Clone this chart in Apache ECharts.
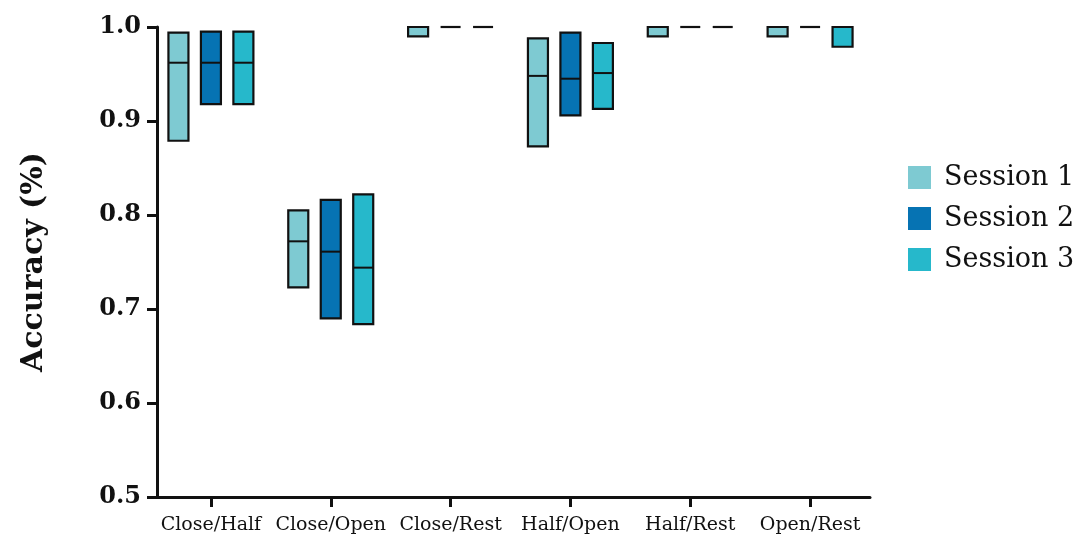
<!DOCTYPE html>
<html><head><meta charset="utf-8">
<script src="https://cdn.jsdelivr.net/npm/echarts@6/dist/echarts.min.js"></script>
<style>html,body{margin:0;padding:0;background:#fff}#c{width:1078px;height:538px}</style>
</head><body><div id="c"></div>
<script>
const categories = ['Close/Half', 'Close/Open', 'Close/Rest', 'Half/Open', 'Half/Rest', 'Open/Rest'];
const sessionNames = ['Session 1', 'Session 2', 'Session 3'];
// each entry: [min, median, max]
const session1 = [[0.879, 0.962, 0.994], [0.723, 0.772, 0.805], [0.990, 1.0, 1.0], [0.873, 0.948, 0.988], [0.990, 1.0, 1.0], [0.990, 1.0, 1.0]];
const session2 = [[0.918, 0.962, 0.995], [0.690, 0.761, 0.816], [1.0, 1.0, 1.0], [0.906, 0.945, 0.994], [1.0, 1.0, 1.0], [1.0, 1.0, 1.0]];
const session3 = [[0.918, 0.962, 0.995], [0.684, 0.744, 0.822], [1.0, 1.0, 1.0], [0.913, 0.951, 0.983], [1.0, 1.0, 1.0], [0.979, 1.0, 1.0]];
const yMin = 0.5, yMax = 1.0, yStep = 0.1;

const colors = ['#7ecad2', '#0673b3', '#26b8cb'];
const offsets = [-0.271, 0, 0.271];
const FONT = 'DejaVu Serif';

function makeRender(offsetFrac) {
  return function (params, api) {
    const cat = api.value(0);
    const band = api.size([1, 0])[0];
    const cx = api.coord([cat, api.value(1)])[0] + offsetFrac * band;
    const w = band * 0.167;
    const pMin = api.coord([cat, api.value(1)])[1];
    const pMed = api.coord([cat, api.value(2)])[1];
    const pMax = api.coord([cat, api.value(3)])[1];
    const color = api.visual('color');
    if (Math.abs(pMin - pMax) < 0.5) {
      return { type: 'line', shape: { x1: cx - w / 2, y1: pMax, x2: cx + w / 2, y2: pMax }, style: { stroke: '#111', lineWidth: 2.2 } };
    }
    return {
      type: 'group', children: [
        { type: 'rect', shape: { x: cx - w / 2, y: pMax, width: w, height: pMin - pMax }, style: { fill: color, stroke: '#111', lineWidth: 2.2 } },
        { type: 'line', shape: { x1: cx - w / 2, y1: pMed, x2: cx + w / 2, y2: pMed }, style: { stroke: '#111', lineWidth: 2 } }
      ]
    };
  };
}

const allData = [session1, session2, session3];
const series = sessionNames.map((name, s) => ({
  name: name,
  type: 'custom',
  clip: false,
  itemStyle: { color: colors[s] },
  encode: { x: 0, y: [1, 2, 3] },
  renderItem: makeRender(offsets[s]),
  data: allData[s].map((d, i) => [i, d[0], d[1], d[2]])
}));

const chart = echarts.init(document.getElementById('c'));
chart.setOption({
  animation: false,
  backgroundColor: '#fff',
  grid: { left: 151, right: 208, top: 27, bottom: 41, containLabel: false },
  legend: {
    orient: 'vertical', left: 903, top: 159,
    itemWidth: 23, itemHeight: 23, itemGap: 14,
    icon: 'rect',
    itemStyle: { borderWidth: 0 },
    textStyle: { fontFamily: FONT, fontSize: 27, color: '#111', padding: [0, 0, 0, 8] },
    data: sessionNames
  },
  xAxis: {
    type: 'category', data: categories,
    axisLine: { lineStyle: { color: '#111', width: 3 } },
    axisTick: { show: true, interval: 0, alignWithLabel: true, length: 10, lineStyle: { color: '#111', width: 3 } },
    axisLabel: { interval: 0, fontFamily: FONT, fontSize: 19, color: '#111', margin: 19 }
  },
  yAxis: {
    type: 'value', min: yMin, max: yMax, interval: yStep, offset: -6,
    name: 'Accuracy (%)', nameLocation: 'middle', nameGap: 108,
    nameTextStyle: { fontFamily: FONT, fontSize: 30, fontWeight: 'bold', color: '#111' },
    axisLine: { show: true, lineStyle: { color: '#111', width: 3 } },
    axisTick: { show: true, length: 10, lineStyle: { color: '#111', width: 3 } },
    axisLabel: { fontFamily: FONT, fontSize: 24, fontWeight: 'bold', color: '#111', margin: 16, formatter: v => v.toFixed(1) },
    splitLine: { show: false }
  },
  series: series
});
</script>
</body></html>
